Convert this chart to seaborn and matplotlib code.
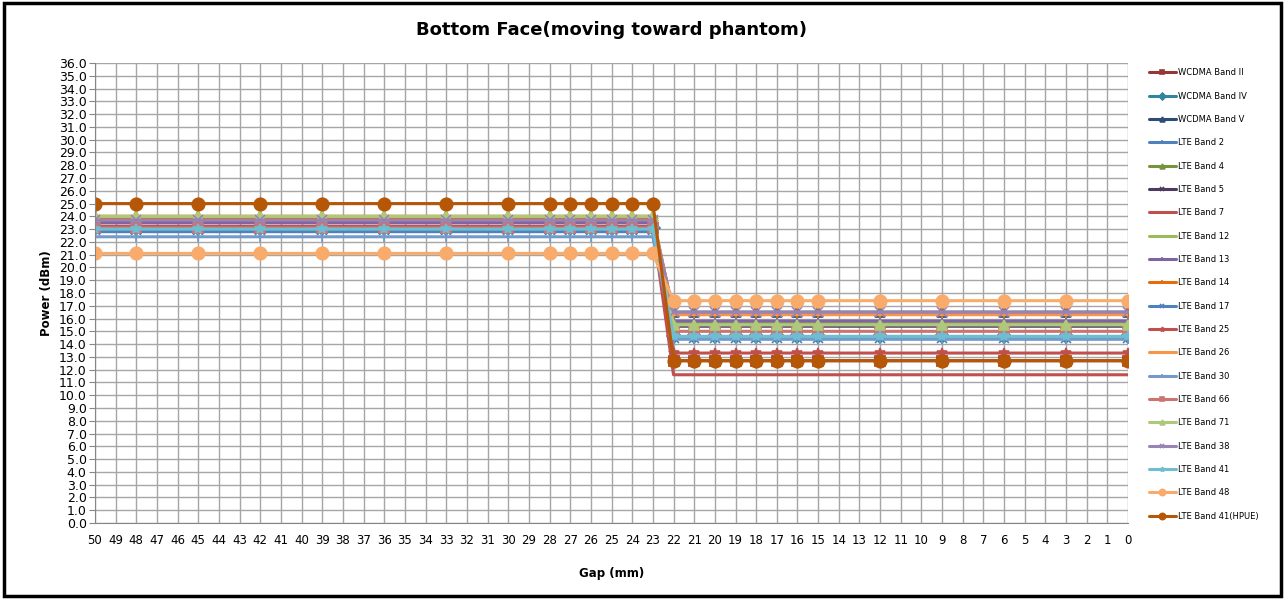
import matplotlib.pyplot as plt
import pandas as pd
import seaborn as sns
from matplotlib.patches import Rectangle

# gaps (mm) where power was measured
gaps = [50, 48, 45, 42, 39, 36, 33, 30, 28, 27, 26, 25, 24, 23,
        22, 21, 20, 19, 18, 17, 16, 15, 12, 9, 6, 3, 0]
trigger_gap = 22  # power reduction applies at gap <= 22 mm

bands = ["WCDMA Band II", "WCDMA Band IV", "WCDMA Band V", "LTE Band 2", "LTE Band 4",
         "LTE Band 5", "LTE Band 7", "LTE Band 12", "LTE Band 13", "LTE Band 14",
         "LTE Band 17", "LTE Band 25", "LTE Band 26", "LTE Band 30", "LTE Band 66",
         "LTE Band 71", "LTE Band 38", "LTE Band 41", "LTE Band 48", "LTE Band 41(HPUE)"]
# power (dBm) far from phantom (gap >= 23) and near (gap <= 22)
power_far = [23.1, 23.1, 23.6, 22.8, 24.0, 23.5, 23.2, 23.9, 23.5, 23.9,
             22.9, 23.2, 24.0, 22.4, 23.1, 24.0, 23.7, 23.0, 21.1, 25.0]
power_near = [12.7, 14.6, 16.5, 14.4, 15.6, 15.4, 11.6, 15.7, 15.8, 16.4,
              14.5, 13.3, 16.3, 14.4, 15.0, 15.5, 16.5, 14.6, 17.4, 12.7]

colors = ["#953735", "#31859C", "#2C4D75", "#4F81BD", "#77933C",
          "#4D3B62", "#C0504D", "#9BBB59", "#8064A2", "#E46C0A",
          "#4F81BD", "#C0504D", "#F79646", "#729ACA", "#CD7371",
          "#AFC97A", "#9983B5", "#6FBDD1", "#F9AB6B", "#B65708"]
markers = ["s", "D", "^", "+", "^", "x", None, None, "+", "+",
           "x", "*", None, "+", "s", "^", "x", "*", "o", "o"]

rows = []
for band, far, near in zip(bands, power_far, power_near):
    for g in gaps:
        rows.append({"Band": band, "Gap (mm)": g,
                     "Power (dBm)": near if g <= trigger_gap else far})
df = pd.DataFrame(rows)

sns.set_style("white")
plt.rcParams["font.family"] = ["DejaVu Sans"]
plt.rcParams["text.color"] = "black"
plt.rcParams["axes.labelcolor"] = "black"
plt.rcParams["xtick.color"] = "black"
plt.rcParams["ytick.color"] = "black"

fig = plt.figure(figsize=(12.85, 5.99), dpi=100)
ax = fig.add_axes([0.0739, 0.1269, 0.804, 0.7679])

for band, color, mk in zip(bands, colors, markers):
    big = mk == "o"
    sns.lineplot(data=df[df.Band == band], x="Gap (mm)", y="Power (dBm)",
                 color=color, marker=mk if mk else "", markersize=9 if big else 7,
                 markeredgewidth=1.2, markeredgecolor=color, linewidth=2.2,
                 label=band, ax=ax, estimator=None)

ax.set_xlim(50, 0)
ax.set_ylim(0, 36)
ax.set_xticks(range(50, -1, -1))
ax.set_yticks(range(0, 37))
ax.set_yticklabels([f"{v:.1f}" for v in range(0, 37)])
ax.tick_params(axis="x", labelsize=8.5, length=0, pad=8)
ax.tick_params(axis="y", labelsize=9, length=4, color="#868686", pad=2, left=True)
ax.grid(True, color="#a6a6a6", linewidth=1)
for s in ["top", "right"]:
    ax.spines[s].set_visible(False)
for s in ["left", "bottom"]:
    ax.spines[s].set_color("#868686")
ax.set_xlabel("Gap (mm)", fontsize=8.5, fontweight="bold", labelpad=14)
ax.set_ylabel("Power (dBm)", fontsize=8.5, fontweight="bold", labelpad=4)
ax.set_title("Bottom Face(moving toward phantom)", fontsize=13, fontweight="bold", pad=20)

handles, labels = ax.get_legend_handles_labels()
ax.legend_.remove()
fig.legend(handles, labels, loc="upper left", bbox_to_anchor=(0.891, 0.893),
           frameon=False, fontsize=6, labelspacing=1.72, handlelength=3.2,
           handletextpad=0.3, borderpad=0, markerscale=0.5)

fig.patches.append(Rectangle((0.003, 0.005), 0.994, 0.99, transform=fig.transFigure,
                             fill=False, edgecolor="black", linewidth=2.5))
fig.savefig("out.png", dpi=100)
